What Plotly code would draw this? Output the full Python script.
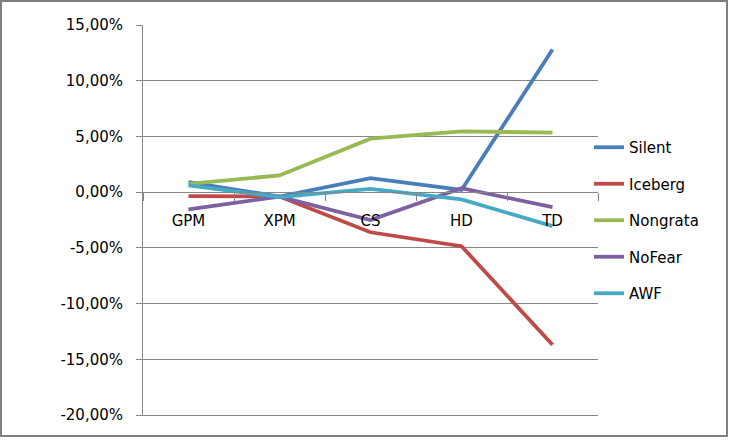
import plotly.graph_objects as go

categories = ["GPM", "XPM", "CS", "HD", "TD"]
silent   = [0.009, -0.004, 0.0125, 0.002, 0.128]
iceberg  = [-0.0035, -0.004, -0.036, -0.0485, -0.137]
nongrata = [0.0075, 0.015, 0.048, 0.0545, 0.0535]
nofear   = [-0.0155, -0.004, -0.025, 0.0035, -0.0135]
awf      = [0.006, -0.0045, 0.003, -0.0065, -0.0305]

series_names = ["Silent", "Iceberg", "Nongrata", "NoFear", "AWF"]
series_values = [silent, iceberg, nongrata, nofear, awf]
colors = ["#4A7EBB", "#BE4B48", "#98B954", "#7D60A0", "#46AAC5"]

y_min, y_max = -0.20, 0.15
y_ticks = [-0.20, -0.15, -0.10, -0.05, 0.0, 0.05, 0.10, 0.15]
y_ticktext = [f"{v * 100:.2f}%".replace(".", ",") for v in y_ticks]

W, H = 730, 440
ml, mr, mt, mb = 143, 132, 25, 25
pw, ph = W - ml - mr, H - mt - mb

fig = go.Figure()
for i, (name, vals, col) in enumerate(zip(series_names, series_values, colors)):
    fig.add_trace(go.Scatter(
        x=categories, y=vals, name=name, mode="lines",
        line=dict(color=col, width=3.8),
        legendgroup=name,
    ))

# empty helper trace so the bottom frame axis (x2) gets drawn
fig.add_trace(go.Scatter(x=[None], y=[None], xaxis="x2", yaxis="y",
                         showlegend=False, hoverinfo="skip", mode="lines"))

grid_col = "#868686"
font_family = "DejaVu Sans"

fig.update_layout(
    width=W, height=H,
    margin=dict(l=ml, r=mr, t=mt, b=mb),
    paper_bgcolor="white", plot_bgcolor="white",
    font=dict(family=font_family, size=15, color="#000000"),
    showlegend=True,
    legend=dict(
        x=(589 - ml) / pw, y=1 - (131 - mt) / ph, xanchor="left", yanchor="top",
        font=dict(size=15, family=font_family),
        tracegroupgap=14, bgcolor="rgba(0,0,0,0)",
    ),
    xaxis=dict(
        type="category", anchor="free", position=(0 - y_min) / (y_max - y_min),
        showline=True, linecolor=grid_col, linewidth=1,
        ticks="outside", ticklen=8, tickcolor=grid_col, tickson="boundaries",
        showgrid=False, zeroline=False,
        tickfont=dict(size=15, family=font_family),
        ticklabelstandoff=15,
        range=[-0.5, len(categories) - 0.5],
    ),
    xaxis2=dict(
        overlaying="x", anchor="y", side="bottom",
        showline=True, linecolor=grid_col, linewidth=1,
        showticklabels=False, ticks="", showgrid=False, zeroline=False,
        range=[0, 1],
    ),
    yaxis=dict(
        range=[y_min, y_max], tickvals=y_ticks, ticktext=y_ticktext,
        showline=True, linecolor=grid_col, linewidth=1,
        ticks="outside", ticklen=6, tickcolor=grid_col,
        showgrid=True, gridcolor=grid_col, gridwidth=1,
        zeroline=False,
        tickfont=dict(size=15, family=font_family),
        ticklabelstandoff=10,
    ),
    shapes=[dict(
        type="rect", xref="paper", yref="paper",
        x0=(1 - ml) / pw, x1=(W - 3 - ml) / pw,
        y0=-(mb - 4) / ph, y1=1 + (mt - 1) / ph,
        line=dict(color="#7F7F7F", width=2), layer="above",
    )],
)

fig.write_html(
    "out.html",
    config={"displayModeBar": False},
    post_script="document.body.style.margin='0';document.body.style.overflow='hidden';",
)
